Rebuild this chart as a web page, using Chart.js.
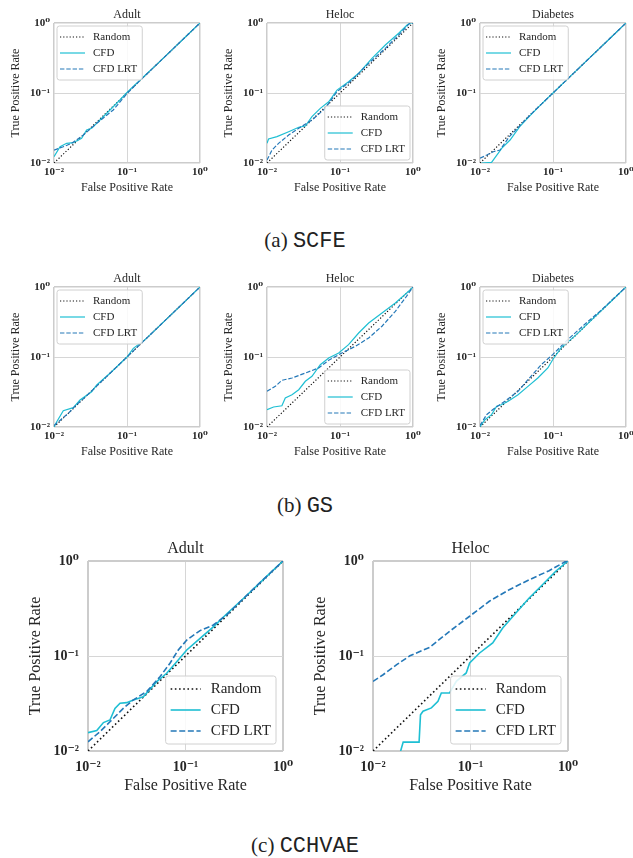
<!DOCTYPE html>
<html lang="en">
<head>
<meta charset="UTF-8">
<title>ROC curves (log-log)</title>
<script src="https://cdn.jsdelivr.net/npm/chart.js"></script>
<style>
  html, body { margin: 0; padding: 0; background: #fff; overflow: hidden; }
  body { width: 633px; height: 858px; position: relative; }
  canvas { position: absolute; }
  .cap {
    position: absolute; left: 0; width: 610px; text-align: center;
    font-family: "Liberation Serif", "DejaVu Serif", serif; font-size: 21px;
    line-height: 24px; color: #222;
  }
  .cap span { font-family: "Liberation Mono", "DejaVu Sans Mono", monospace; font-size: 22px; }
</style>
</head>
<body>

<canvas id="scfeAdult" width="212" height="196" style="left:0px;top:0px"></canvas>
<canvas id="scfeHeloc" width="212" height="196" style="left:213px;top:0px"></canvas>
<canvas id="scfeDiabetes" width="212" height="196" style="left:426px;top:0px"></canvas>
<div class="cap" style="top:228px">(a) <span>SCFE</span></div>

<canvas id="gsAdult" width="212" height="196" style="left:0px;top:264px"></canvas>
<canvas id="gsHeloc" width="212" height="196" style="left:213px;top:264px"></canvas>
<canvas id="gsDiabetes" width="212" height="196" style="left:426px;top:264px"></canvas>
<div class="cap" style="top:493px">(b) <span>GS</span></div>

<canvas id="cchvaeAdult" width="295" height="266" style="left:0px;top:530px"></canvas>
<canvas id="cchvaeHeloc" width="295" height="266" style="left:285px;top:530px"></canvas>
<div class="cap" style="top:833px">(c) <span>CCHVAE</span></div>

<script>
// axis ticks, shared by every panel
var tickValues = [0.01, 0.1, 1];
var tickLabels = ['10⁻²', '10⁻¹', '10⁰'];
var seriesNames = ['Random', 'CFD', 'CFD LRT'];

var randomFpr = [0.01, 1];
var randomTpr = [0.01, 1];

// (a) SCFE
var scfeAdultCfdFpr = [0.01, 0.0121, 0.0149, 0.0184, 0.0239, 0.028, 0.0328, 0.0426, 0.0554, 0.08, 0.1, 0.15, 0.25, 0.4, 0.6, 1];
var scfeAdultCfdTpr = [0.0123, 0.0171, 0.0191, 0.0195, 0.0225, 0.0296, 0.0313, 0.0411, 0.054, 0.0794, 0.102, 0.152, 0.25, 0.4, 0.6, 1];
var scfeAdultLrtFpr = [0.01, 0.0134, 0.0175, 0.0252, 0.0385, 0.0648, 0.1, 0.15, 0.25, 0.4, 0.6, 1];
var scfeAdultLrtTpr = [0.0153, 0.0171, 0.0191, 0.0251, 0.0369, 0.0572, 0.098, 0.15, 0.25, 0.4, 0.6, 1];

var scfeHelocCfdFpr = [0.01, 0.0105, 0.0137, 0.0198, 0.0272, 0.0335, 0.0413, 0.0537, 0.07, 0.091, 0.131, 0.18, 0.274, 0.418, 0.637, 0.83, 0.92, 1];
var scfeHelocCfdTpr = [0.0191, 0.022, 0.0238, 0.028, 0.0324, 0.0338, 0.0459, 0.0604, 0.075, 0.11, 0.145, 0.191, 0.313, 0.485, 0.713, 0.936, 1, 1];
var scfeHelocLrtFpr = [0.01, 0.0117, 0.0144, 0.0198, 0.0272, 0.0413, 0.0628, 0.091, 0.146, 0.247, 0.418, 0.706, 0.88, 1];
var scfeHelocLrtTpr = [0.011, 0.0153, 0.0191, 0.0251, 0.0313, 0.0411, 0.0604, 0.1045, 0.153, 0.265, 0.435, 0.751, 0.97, 1];

var scfeDiabetesCfdFpr = [0.0105, 0.0144, 0.0178, 0.0198, 0.0258, 0.035, 0.05, 0.07, 0.1, 0.15, 0.25, 0.4, 0.6, 1];
var scfeDiabetesCfdTpr = [0.01, 0.0102, 0.0138, 0.0162, 0.0213, 0.033, 0.049, 0.07, 0.1, 0.15, 0.25, 0.4, 0.6, 1];
var scfeDiabetesLrtFpr = [0.01, 0.0124, 0.0152, 0.0188, 0.025, 0.035, 0.05, 0.07, 0.1, 0.15, 0.25, 0.4, 0.6, 1];
var scfeDiabetesLrtTpr = [0.0117, 0.013, 0.0145, 0.0153, 0.0235, 0.034, 0.05, 0.07, 0.1, 0.15, 0.25, 0.4, 0.6, 1];

// (b) GS
var gsAdultCfdFpr = [0.01, 0.0109, 0.0134, 0.0184, 0.0227, 0.0328, 0.0385, 0.06, 0.1, 0.122, 0.18, 0.3, 0.5, 1];
var gsAdultCfdTpr = [0.01, 0.0119, 0.0171, 0.0189, 0.0243, 0.0319, 0.0398, 0.06, 0.1, 0.133, 0.18, 0.3, 0.5, 1];
var gsAdultLrtFpr = [0.01, 0.0125, 0.016, 0.02, 0.025, 0.035, 0.05, 0.1, 0.2, 0.4, 1];
var gsAdultLrtTpr = [0.0105, 0.0128, 0.016, 0.0205, 0.025, 0.035, 0.05, 0.1, 0.2, 0.4, 1];

var gsHelocCfdFpr = [0.01, 0.0123, 0.016, 0.0178, 0.022, 0.0272, 0.0335, 0.0413, 0.0537, 0.07, 0.096, 0.131, 0.18, 0.247, 0.376, 0.573, 0.873, 1];
var gsHelocCfdTpr = [0.0177, 0.0193, 0.0201, 0.026, 0.0289, 0.0341, 0.045, 0.053, 0.0776, 0.0968, 0.114, 0.15, 0.22, 0.306, 0.425, 0.59, 0.869, 1];
var gsHelocLrtFpr = [0.01, 0.013, 0.016, 0.022, 0.0335, 0.051, 0.07, 0.106, 0.162, 0.247, 0.376, 0.573, 0.785, 1];
var gsHelocLrtTpr = [0.0324, 0.0381, 0.0465, 0.0501, 0.059, 0.0697, 0.0897, 0.114, 0.142, 0.187, 0.275, 0.45, 0.697, 1];

var gsDiabetesCfdFpr = [0.01, 0.0117, 0.0144, 0.0169, 0.0197, 0.0243, 0.0332, 0.0454, 0.062, 0.085, 0.099, 0.129, 0.2, 0.35, 0.6, 1];
var gsDiabetesCfdTpr = [0.0101, 0.0127, 0.015, 0.0198, 0.0208, 0.0233, 0.0289, 0.038, 0.0501, 0.0697, 0.0914, 0.135, 0.2, 0.35, 0.6, 1];
var gsDiabetesLrtFpr = [0.01, 0.0123, 0.016, 0.0219, 0.0332, 0.0454, 0.069, 0.099, 0.159, 0.268, 0.45, 1];
var gsDiabetesLrtTpr = [0.0105, 0.015, 0.0187, 0.0233, 0.0324, 0.0474, 0.0776, 0.108, 0.177, 0.289, 0.46, 1];

// (c) CCHVAE
var cchvaeAdultCfdFpr = [0.01, 0.0123, 0.0144, 0.0168, 0.0189, 0.0213, 0.0249, 0.0292, 0.0369, 0.0507, 0.0641, 0.0813, 0.103, 0.141, 0.193, 0.264, 0.4, 0.6, 1];
var cchvaeAdultCfdTpr = [0.0156, 0.0164, 0.0199, 0.0212, 0.0281, 0.0318, 0.0323, 0.0344, 0.0373, 0.0537, 0.0658, 0.087, 0.1156, 0.153, 0.203, 0.277, 0.41, 0.61, 1];
var cchvaeAdultLrtFpr = [0.01, 0.0133, 0.0168, 0.023, 0.029, 0.04, 0.0547, 0.0693, 0.0843, 0.103, 0.141, 0.193, 0.264, 0.4, 0.6, 1];
var cchvaeAdultLrtTpr = [0.0125, 0.016, 0.0203, 0.0281, 0.0344, 0.0422, 0.0605, 0.0838, 0.1156, 0.147, 0.185, 0.212, 0.27, 0.41, 0.61, 1];

var cchvaeHelocCfdFpr = [0.0192, 0.0204, 0.0297, 0.0307, 0.0326, 0.0397, 0.0464, 0.0502, 0.061, 0.0715, 0.0904, 0.098, 0.124, 0.169, 0.214, 0.292, 0.4, 0.547, 0.748, 1];
var cchvaeHelocCfdTpr = [0.01, 0.0124, 0.0124, 0.024, 0.0262, 0.0284, 0.0333, 0.0408, 0.0408, 0.0542, 0.0663, 0.0843, 0.1076, 0.137, 0.197, 0.284, 0.408, 0.562, 0.78, 1];
var cchvaeHelocLrtFpr = [0.01, 0.0127, 0.0175, 0.0239, 0.0382, 0.061, 0.098, 0.156, 0.25, 0.4, 0.64, 0.93, 1];
var cchvaeHelocLrtTpr = [0.054, 0.0635, 0.081, 0.1006, 0.1236, 0.182, 0.262, 0.377, 0.499, 0.635, 0.79, 0.98, 1];

var SERIF = '"Liberation Serif", "DejaVu Serif", serif';
var TEXT = '#262626';

// sizes for the two panel types
var SMALL = {
    title: 12, tick: 11, legend: 11, lw: 1.2, dot: [1.2, 2], dash: [4.4, 1.9],
    yAxisW: 54, xAxisH: 33, padR: 12,
    titlePad: { top: 7.4, bottom: 1.2 }, yTitlePad: 8.8, xTitlePad: 0.8,
    xTickPad: 3, yTickPad: 4, frame: 1.5,
    box: { row: 16, pad: 3, sample: 25, gap: 8, lead: 3, margin: 3 }
};
var BIG = {
    title: 16, tick: 14, legend: 15, lw: 1.6, dot: [1.6, 2.6], dash: [6, 2.6],
    yAxisW: 88, xAxisH: 45, padR: 12,
    titlePad: { top: 9.4, bottom: 2.4 }, yTitlePad: 26.5, xTitlePad: 0.4,
    xTickPad: 8, yTickPad: 9, frame: 2,
    box: { row: 21, pad: 2.5, sample: 30, gap: 10, lead: 5, margin: 7 }
};

// legend drawn inside the plot area, like matplotlib's
var insideLegend = {
    id: 'insideLegend',
    afterDatasetsDraw: function (chart, args, opts) {
        var ctx = chart.ctx, a = chart.chartArea, b = opts.box;
        var sets = chart.data.datasets;
        ctx.save();
        ctx.font = opts.size + 'px ' + SERIF;
        var textW = 0;
        sets.forEach(function (d) { textW = Math.max(textW, ctx.measureText(d.label).width); });
        var w = b.lead + b.sample + b.gap + textW + 5;
        var h = b.pad * 2 + b.row * sets.length;
        var x = opts.corner === 'ul' ? a.left + b.margin : a.right - b.margin - w;
        var y = opts.corner === 'ul' ? a.top + b.margin : a.bottom - b.margin - h;

        ctx.beginPath();
        ctx.roundRect(x, y, w, h, 2.5);
        ctx.fillStyle = 'rgba(255,255,255,0.85)';
        ctx.fill();
        ctx.strokeStyle = '#d0d0d0';
        ctx.lineWidth = 1;
        ctx.stroke();

        sets.forEach(function (d, i) {
            var cy = y + b.pad + b.row * (i + 0.5);
            ctx.beginPath();
            ctx.setLineDash(d.borderDash || []);
            ctx.strokeStyle = d.borderColor;
            ctx.lineWidth = d.borderWidth;
            ctx.moveTo(x + b.lead, cy);
            ctx.lineTo(x + b.lead + b.sample, cy);
            ctx.stroke();
            ctx.setLineDash([]);
            ctx.fillStyle = TEXT;
            ctx.textBaseline = 'middle';
            ctx.textAlign = 'left';
            ctx.fillText(d.label, x + b.lead + b.sample + b.gap, cy);
        });
        ctx.restore();
    }
};

function pairs(xs, ys) {
    return xs.map(function (x, i) { return { x: x, y: ys[i] }; });
}

function fixBox(sc, st) {
    if (sc.isHorizontal()) sc.height = st.xAxisH;
    else sc.width = st.yAxisW;
    sc.paddingLeft = 0; sc.paddingRight = 0; sc.paddingTop = 0; sc.paddingBottom = 0;
}

function axis(st, titleText, horizontal) {
    return {
        type: 'logarithmic',
        min: 0.01,
        max: 1,
        afterBuildTicks: function (sc) {
            sc.ticks = tickValues.map(function (v) { return { value: v }; });
        },
        afterFit: function (sc) { fixBox(sc, st); },
        ticks: {
            autoSkip: false,
            maxRotation: 0,
            padding: horizontal ? st.xTickPad : st.yTickPad,
            color: TEXT,
            font: { family: SERIF, size: st.tick, weight: 'bold' },
            callback: function (v, i) { return tickLabels[i]; }
        },
        grid: {
            drawTicks: false,
            color: function (c) { return (c.index === 1) ? '#d6d6d6' : '#cccccc'; },
            lineWidth: function (c) { return (c.index === 1) ? 1 : st.frame; }
        },
        border: { display: false },
        title: {
            display: true,
            text: titleText,
            color: TEXT,
            font: { family: SERIF, size: st.title, weight: 'normal' },
            padding: horizontal ? { top: 0, bottom: st.xTitlePad } : { top: st.yTitlePad, bottom: 0 }
        }
    };
}

function drawPanel(id, st, name, corner, cfdFpr, cfdTpr, lrtFpr, lrtTpr) {
    var ctx = document.getElementById(id).getContext('2d');
    return new Chart(ctx, {
        type: 'line',
        data: {
            datasets: [
                { label: seriesNames[0], data: pairs(randomFpr, randomTpr), borderColor: '#111111',
                  borderWidth: st.lw, borderDash: st.dot, pointRadius: 0, order: 3 },
                { label: seriesNames[1], data: pairs(cfdFpr, cfdTpr), borderColor: '#1ebfd3',
                  borderWidth: st.lw, pointRadius: 0, order: 2 },
                { label: seriesNames[2], data: pairs(lrtFpr, lrtTpr), borderColor: '#2478b8',
                  borderWidth: st.lw, borderDash: st.dash, pointRadius: 0, order: 1 }
            ]
        },
        options: {
            responsive: false,
            animation: false,
            devicePixelRatio: 1,
            events: [],
            layout: { padding: { top: 0, left: 0, bottom: 0, right: st.padR } },
            elements: { line: { tension: 0 } },
            scales: {
                x: axis(st, 'False Positive Rate', true),
                y: axis(st, 'True Positive Rate', false)
            },
            plugins: {
                legend: { display: false },
                tooltip: { enabled: false },
                title: {
                    display: true,
                    text: name,
                    fullSize: false,
                    color: TEXT,
                    font: { family: SERIF, size: st.title, weight: 'normal' },
                    padding: st.titlePad
                },
                insideLegend: { corner: corner, size: st.legend, box: st.box }
            }
        },
        plugins: [insideLegend]
    });
}

drawPanel('scfeAdult', SMALL, 'Adult', 'ul', scfeAdultCfdFpr, scfeAdultCfdTpr, scfeAdultLrtFpr, scfeAdultLrtTpr);
drawPanel('scfeHeloc', SMALL, 'Heloc', 'lr', scfeHelocCfdFpr, scfeHelocCfdTpr, scfeHelocLrtFpr, scfeHelocLrtTpr);
drawPanel('scfeDiabetes', SMALL, 'Diabetes', 'ul', scfeDiabetesCfdFpr, scfeDiabetesCfdTpr, scfeDiabetesLrtFpr, scfeDiabetesLrtTpr);

drawPanel('gsAdult', SMALL, 'Adult', 'ul', gsAdultCfdFpr, gsAdultCfdTpr, gsAdultLrtFpr, gsAdultLrtTpr);
drawPanel('gsHeloc', SMALL, 'Heloc', 'lr', gsHelocCfdFpr, gsHelocCfdTpr, gsHelocLrtFpr, gsHelocLrtTpr);
drawPanel('gsDiabetes', SMALL, 'Diabetes', 'ul', gsDiabetesCfdFpr, gsDiabetesCfdTpr, gsDiabetesLrtFpr, gsDiabetesLrtTpr);

drawPanel('cchvaeAdult', BIG, 'Adult', 'lr', cchvaeAdultCfdFpr, cchvaeAdultCfdTpr, cchvaeAdultLrtFpr, cchvaeAdultLrtTpr);
drawPanel('cchvaeHeloc', BIG, 'Heloc', 'lr', cchvaeHelocCfdFpr, cchvaeHelocCfdTpr, cchvaeHelocLrtFpr, cchvaeHelocLrtTpr);
</script>
</body>
</html>
